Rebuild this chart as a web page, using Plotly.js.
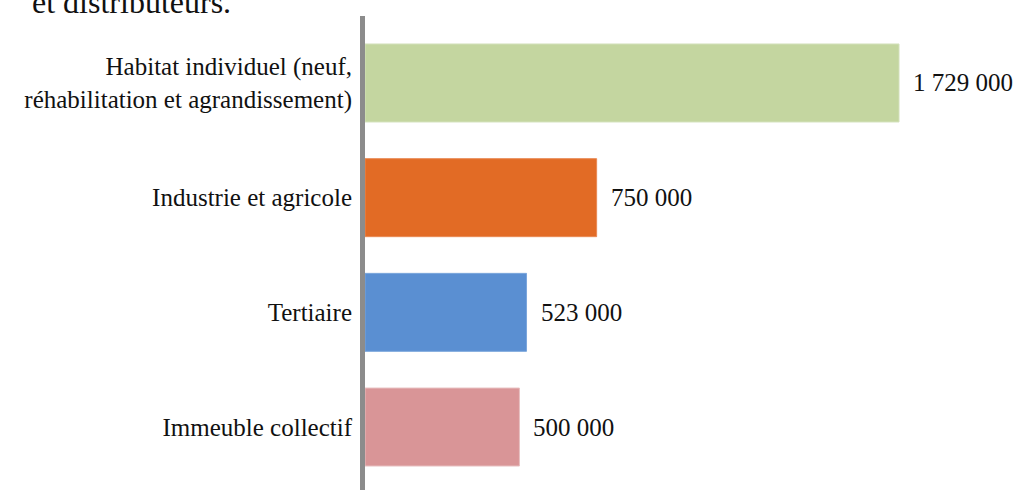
<!DOCTYPE html>
<html>
<head>
<meta charset="utf-8">
<script src="https://cdn.plot.ly/plotly-3.0.1.min.js"></script>
<style>
html,body{margin:0;padding:0;background:#fff;}
#chart{width:1018px;height:490px;}
</style>
</head>
<body>
<div id="chart"></div>
<script>
// Data (top to bottom in the picture)
const categories = [
  "Habitat individuel (neuf,<br>réhabilitation et agrandissement)",
  "Industrie et agricole",
  "Tertiaire",
  "Immeuble collectif"
];
const values = [1729000, 750000, 523000, 500000];
const valueLabels = ["1 729 000", "750 000", "523 000", "500 000"];
const barColors = ["#c4d6a0", "#e26b25", "#5a8fd2", "#d99597"];
const edgeColors = ["#d3e1bb", "#e98a55", "#7ba6dc", "#e8c0c1"];
const titleText = "et distributeurs.";

// Plotly draws horizontal categories bottom-up, so reverse
const cats = categories.slice().reverse();
const vals = values.slice().reverse();
const labs = valueLabels.slice().reverse();
const cols = barColors.slice().reverse();
const edges = edgeColors.slice().reverse();

const W = 1018, H = 490;
const L = 365, R = 18, T = 16, B = 0;
const plotW = W - L - R;

const serif = "Liberation Serif, Times New Roman, serif";

const annotations = vals.map((v, i) => ({
  x: v, y: cats[i], xref: 'x', yref: 'y',
  text: labs[i], showarrow: false, xanchor: 'left', yanchor: 'middle',
  xshift: 12, font: {family: serif, size: 25, color: '#111'}
}));
annotations.push({
  xref: 'paper', yref: 'paper', x: (30 - L) / plotW, y: 1,
  xanchor: 'left', yanchor: 'bottom', yshift: -6,
  text: titleText, showarrow: false,
  font: {family: serif, size: 32, color: '#111'}
});

const trace = {
  type: 'bar', orientation: 'h',
  x: vals, y: cats,
  marker: {color: cols, line: {color: edges, width: 1}},
  hoverinfo: 'none'
};

const layout = {
  width: W, height: H,
  margin: {l: L, r: R, t: T, b: B, pad: 0},
  paper_bgcolor: '#fff', plot_bgcolor: '#fff',
  showlegend: false,
  bargap: 0.32,
  xaxis: {range: [0, 2056000], visible: false, fixedrange: true},
  yaxis: {
    type: 'category', range: [-0.549, 3.584],
    showline: true, linecolor: '#8c8c8c', linewidth: 5,
    showgrid: false, zeroline: false, ticks: '',
    ticklabelstandoff: 3,
    tickfont: {family: serif, size: 25, color: '#111'},
    fixedrange: true
  },
  annotations: annotations
};

Plotly.newPlot('chart', [trace], layout, {displayModeBar: false, staticPlot: true});
</script>
</body>
</html>
